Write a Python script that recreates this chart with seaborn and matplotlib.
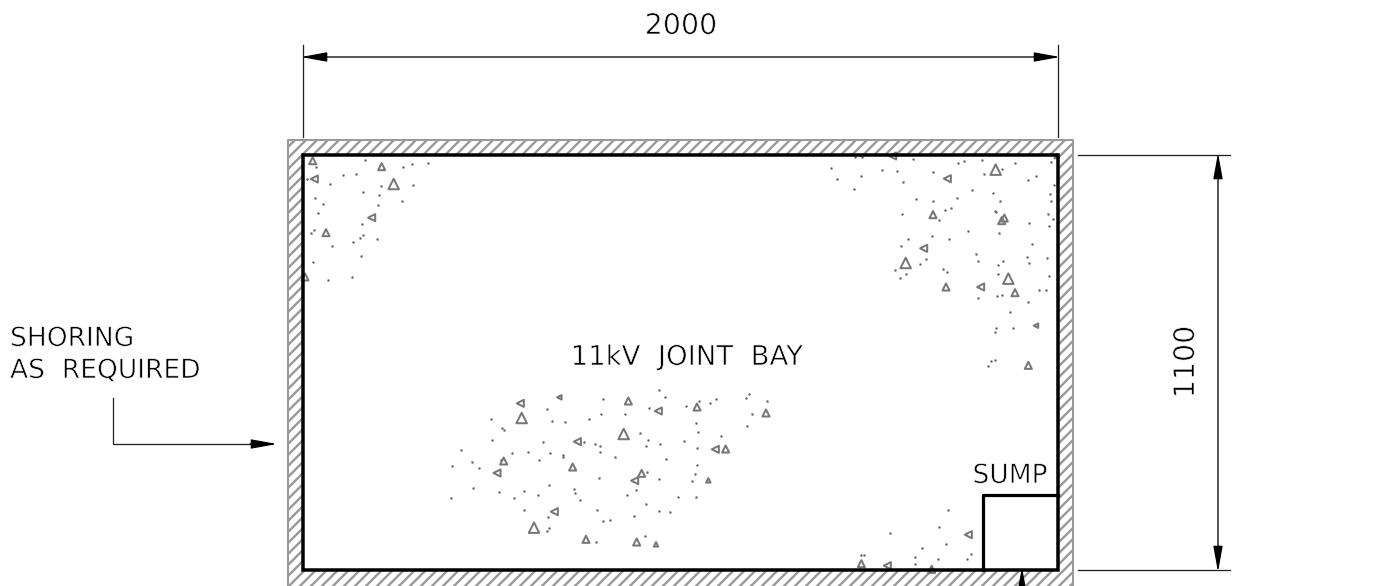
import numpy as np
import pandas as pd
import matplotlib
matplotlib.use("Agg")
import matplotlib.pyplot as plt
import matplotlib.patheffects as pe
from matplotlib.patches import Rectangle
import seaborn as sns

# everything, in pixels. stones are per crop: (x, y) inside the crop
dots_tl = [(108,110),(254,90),(370,110),(397,102),(443,100),(188,134),(229,131),(80,148),(150,161),(303,168),
           (400,165),(250,186),(298,194),(104,205),(130,223),(295,224),(366,214),(113,248),(246,283),(101,300),
           (94,309),(248,316),(240,323),(291,328),(219,337),(155,348),(243,379),(98,397),(143,451),(215,441)]
dots_tr = [(32,113),(51,147),(123,137),(102,176),(185,120),(232,123),(249,156),(105,80),(125,80),(279,87),
           (414,98),(432,94),(486,90),(340,126),(493,132),(545,116),(586,100),(692,96),(647,139),(624,150),
           (702,165),(456,179),(520,188),(689,191),(693,213),(288,208),(338,212),(410,203),(541,212),(375,240),
           (392,234),(525,242),(529,247),(246,252),(357,271),(684,253),(698,268),(686,287),(626,279),(444,302),
           (537,308),(335,317),(263,326),(388,328),(243,348),(635,343),(467,372),(622,382),(682,383),(319,388),
           (473,394),(299,401),(550,392),(534,404),(627,400),(226,420),(368,416),(382,426),(259,431),(239,443),
           (534,433),(687,439),(656,481),(678,479),(531,499),(546,496),(474,505),(623,515),(569,547),(527,595),
           (524,606),(579,595),(504,708),(513,693),(524,691)]
dots_mid = [(657,30),(674,51),(489,58),(737,78),(777,62),(809,69),(827,58),(918,54),(926,41),(981,64),
            (321,87),(628,84),(483,101),(555,102),(935,101),(153,116),(335,122),(374,126),(446,117),(767,130),
            (922,137),(186,143),(191,150),(599,159),(774,157),(842,168),(156,179),(310,185),(431,187),(464,192),
            (479,198),(625,180),(733,183),(618,199),(661,192),(771,205),(63,211),(216,218),(263,217),(331,218),
            (479,215),(370,225),(370,231),(524,231),(297,240),(678,237),(95,245),(36,258),(116,264),(771,254),
            (182,240),(621,275),(766,282),(476,294),(657,296),(755,302),(328,314),(99,325),(403,328),(406,339),
            (178,336),(253,332),(294,344),(222,353),(33,353),(419,360),(560,345),(587,331),(714,351),(768,350),
            (618,371),(251,389),(472,389),(656,394),(690,395),(582,409),(324,410),(510,419),(488,423),(327,443),
            (320,452),(468,485),(614,467)]
dots_br = [(323,179),(297,232),(151,250),(319,283),(247,293),(394,313),(380,327),(293,327),(226,321),(226,341),
           (64,316),(72,315),(429,269)]

# triangles: x, y, kind (up / left), size class
tri_tl = [(98,92,"up","s"),(305,110,"up","s"),(103,147,"left","s"),(341,162,"up","l"),(275,263,"left","s"),
          (138,308,"up","s"),(75,441,"up","s")]
tri_tr = [(527,119,"up","l"),(382,146,"left","s"),(218,78,"left","s"),(339,254,"up","s"),(545,272,"up","s"),
          (553,264,"up","s"),(311,355,"left","s"),(257,399,"up","l"),(565,446,"up","l"),(378,471,"up","s"),
          (482,471,"left","s"),(585,488,"up","s"),(648,587,"left","t"),(625,706,"up","s"),(710,78,"up","t")]
tri_mid = [(241,70,"left","s"),(358,52,"left","t"),(565,63,"up","s"),(655,93,"left","s"),(771,81,"up","s"),
           (978,99,"up","s"),(245,114,"up","l"),(551,162,"up","l"),(412,185,"left","s"),(826,208,"left","s"),
           (857,207,"up","s"),(191,243,"up","s"),(171,279,"left","s"),(398,261,"up","s"),(605,280,"up","s"),
           (584,302,"left","s"),(805,301,"up","t"),(343,395,"left","s"),(282,443,"up","l"),(438,478,"up","s"),
           (590,486,"up","s"),(648,493,"up","t")]
tri_br = [(385,254,"left","s"),(64,341,"up","s"),(142,347,"left","s"),(275,358,"up","s")]

# name -> crop origin
crops = {"tl": (280, 130), "tr": (820, 130), "mid": (440, 380), "br": (840, 450)}
dot_sets = {"tl": dots_tl, "tr": dots_tr, "mid": dots_mid, "br": dots_br}
tri_sets = {"tl": tri_tl, "tr": tri_tr, "mid": tri_mid, "br": tri_br}

rows = []
for k, pts in dot_sets.items():
    for p in pts:
        rows.append((crops[k][0] + p[0] / 3, crops[k][1] + p[1] / 3))
dots = pd.DataFrame(rows, columns=["x", "y"])

rows = []
for k, pts in tri_sets.items():
    for p in pts:
        rows.append((crops[k][0] + p[0] / 3, crops[k][1] + p[1] / 3, p[2], p[3]))
stones = pd.DataFrame(rows, columns=["x", "y", "kind", "sz"])

plt.rcParams["font.family"] = ["DejaVu Sans"]

# dpi 72 so 1pt = 1px
fig, ax = plt.subplots(figsize=(1380 / 72, 586 / 72), dpi=72)
ax.set_position([0, 0, 1, 1])

sns.scatterplot(data=dots, x="x", y="y", s=6, color="#666666", linewidth=0, legend=False, ax=ax, zorder=2)
sns.scatterplot(data=stones, x="x", y="y", style="kind", markers={"up": "^", "left": "<"},
                size="sz", sizes={"t": 20, "s": 50, "l": 110}, color="#777777", legend=False, ax=ax, zorder=2)
ax.collections[-1].set_facecolor("none")
ax.collections[-1].set_edgecolor("#777777")
ax.collections[-1].set_linewidth(2)

ax.set_xlim(0, 1380)
ax.set_ylim(586, 0)
ax.axis("off")

# shoring band: diagonals clipped to the outer box, inner box painted white over them
outer = Rectangle((288, 140), 785, 446, transform=ax.transData)
for c in np.arange(435 - 11 * 3, 1660, 11):
    ln, = ax.plot([c - 140, c - 586], [140, 586], color="#999999", lw=2.4, zorder=1)
    ln.set_clip_path(outer)
ax.add_patch(Rectangle((303, 155), 755, 415, facecolor="white", edgecolor="none", zorder=1.5))
ax.plot([288, 288, 1073, 1073], [586, 140, 140, 586], color="#999999", lw=2, zorder=4)

# pit and sump
ax.add_patch(Rectangle((303, 155), 755, 415, fill=False, edgecolor="black", lw=3.5, zorder=5))
ax.plot([983, 983, 1058], [570, 495, 495], color="black", lw=3.2, zorder=5)

# extension lines and leader
ink = "#222222"
for ex, ey in [([303, 303], [45, 137]), ([1058, 1058], [45, 137]),
               ([1078, 1230], [155, 155]), ([1078, 1230], [570, 570]),
               ([113, 113, 255], [398, 444, 444])]:
    ax.plot(ex, ey, color=ink, lw=1.3, zorder=6)

dim_style = dict(arrowstyle="<|-|>,head_length=22,head_width=4", mutation_scale=1, shrinkA=0, shrinkB=0,
                 color="black", lw=1.3)
ax.annotate("", xy=(301, 57), xytext=(1060, 57), arrowprops=dim_style, zorder=6)
ax.annotate("", xy=(1218, 153), xytext=(1218, 572), arrowprops=dim_style, zorder=6)
one_way = dict(arrowstyle="-|>,head_length=22,head_width=4", mutation_scale=1, shrinkA=0, shrinkB=0,
               color="black", lw=1.3)
ax.annotate("", xy=(277, 444), xytext=(250, 444), arrowprops=one_way, zorder=6)
ax.annotate("", xy=(1022, 567), xytext=(1022, 600), arrowprops=one_way, zorder=6)

# white outline eats into the glyphs, the CAD font is much thinner
thin = [pe.Stroke(linewidth=0.7, foreground="white")]
labels = [("2000", 681, 26, 0, 28.5), ("1100", 1186, 362, 90, 28.5), ("11kV  JOINT  BAY", 687, 357, 0, 27.5),
          ("SUMP", 1010, 476, 0, 26.5)]
for txt, tx, ty, rot, fs in labels:
    ax.text(tx, ty, txt, ha="center", va="center", rotation=rot, fontsize=fs, color="black", zorder=7,
            path_effects=thin)
ax.text(10, 339, "SHORING", ha="left", va="center", fontsize=26.5, color="black", path_effects=thin)
ax.text(10, 371, "AS  REQUIRED", ha="left", va="center", fontsize=26.5, color="black", path_effects=thin)

fig.savefig("out.png", dpi=72, facecolor="white")
